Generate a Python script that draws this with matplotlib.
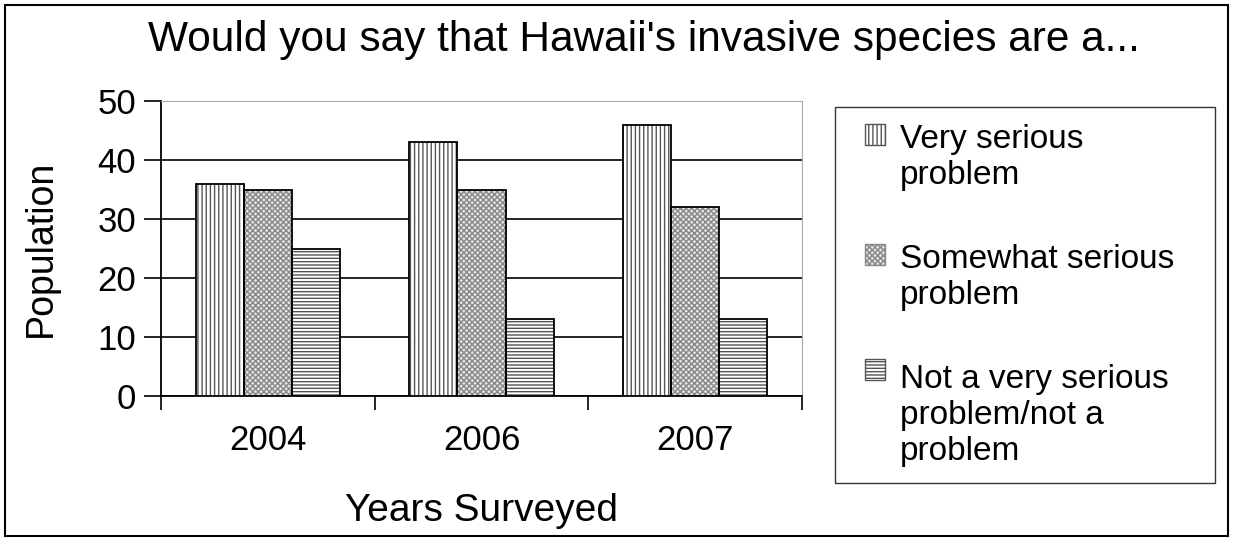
import numpy as np
import matplotlib.pyplot as plt
from matplotlib.patches import Patch, Rectangle
from matplotlib.legend_handler import HandlerPatch

plt.rcParams['font.family'] = ['Liberation Sans', 'DejaVu Sans']

years = ["2004", "2006", "2007"]
very_serious = [36, 43, 46]
somewhat_serious = [35, 35, 32]
not_serious = [25, 13, 13]

labels = ["Very serious\nproblem",
          "Somewhat serious\nproblem",
          "Not a very serious\nproblem/not a\nproblem"]
hatches = ["||||", "xxxxxx", "-----"]
hcolors = ["#555555", "#888888", "#555555"]
fcolors = ["white", "#e4e4e4", "white"]

LEG_FS = 24
LSP = 1.2
SW = 0.6  # swatch size, in font sizes

fig = plt.figure(figsize=(12.33, 5.41), dpi=100)
ax = fig.add_axes([0.1306, 0.268, 0.5198, 0.545])

x = np.arange(len(years))
w = 0.225
series = [very_serious, somewhat_serious, not_serious]
for i, vals in enumerate(series):
    pos = x + (i - 1) * w
    # hatch layer then black outline
    ax.bar(pos, vals, w, color=fcolors[i], edgecolor=hcolors[i], hatch=hatches[i], linewidth=0, zorder=3)
    ax.bar(pos, vals, w, fill=False, edgecolor="black", linewidth=1.3, zorder=4)

ax.set_xlim(-0.5, 2.5)
ax.set_ylim(0, 50)
ax.set_yticks(range(0, 51, 10))
ax.yaxis.grid(True, color="black", linewidth=1.2, zorder=0)
ax.set_xticks(x)
ax.set_xticklabels(years)
ax.set_xticks([-0.5, 0.5, 1.5, 2.5], minor=True)
ax.tick_params(axis="x", which="major", length=0, pad=20, labelsize=25)
ax.tick_params(axis="x", which="minor", length=10, width=1.2, direction="out")
ax.tick_params(axis="y", length=12, width=1.2, labelsize=25, pad=6)
for s in ["top", "right"]:
    ax.spines[s].set_color("#aaaaaa")
for s in ["left", "bottom"]:
    ax.spines[s].set_linewidth(1.3)
ax.set_xlabel("Years Surveyed", fontsize=28, labelpad=26)
ax.set_ylabel("Population", fontsize=27, labelpad=28)

fig.text(0.522, 0.926, "Would you say that Hawaii's invasive species are a...",
         ha="center", va="center", fontsize=30.5)


class TopHandler(HandlerPatch):
    # put the swatch beside the first line of a multi-line label
    def __init__(self, nlines, **kw):
        super().__init__(**kw)
        self.nlines = nlines

    def create_artists(self, legend, orig_handle, xdescent, ydescent, width, height, fontsize, trans):
        arts = super().create_artists(legend, orig_handle, xdescent, ydescent, width, height, fontsize, trans)
        shift = (self.nlines - 1) * 0.5 * fontsize * LSP * 1.15
        for a in arts:
            a.set_y(a.get_y() + shift)
            a.set_x(a.get_x() + width - SW * fontsize)
            a.set_width(SW * fontsize)
        return arts


handles = [Patch(facecolor=fcolors[i], edgecolor=hcolors[i], hatch=hatches[i]) for i in range(3)]
hmap = {handles[i]: TopHandler(labels[i].count("\n") + 1) for i in range(3)}
leg = fig.legend(handles, labels, loc="upper left", bbox_to_anchor=(0.677, 0.107, 0.308, 0.695),
                 mode="expand", fontsize=LEG_FS, frameon=True, fancybox=False, edgecolor="black",
                 handlelength=1.0, handleheight=SW, handletextpad=0.45, labelspacing=1.6,
                 borderpad=0.5, borderaxespad=0, handler_map=hmap)
leg.get_frame().set_linewidth(1.0)
for t in leg.get_texts():
    t.set_linespacing(LSP)

fig.patches.append(Rectangle((0.004, 0.009), 0.992, 0.982, transform=fig.transFigure,
                             fill=False, edgecolor="black", linewidth=1.5))

fig.savefig("out.png", dpi=100)
